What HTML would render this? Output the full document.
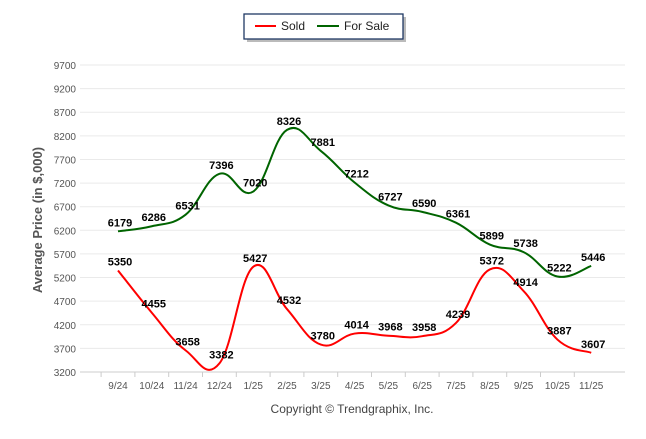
<!DOCTYPE html>
<html><head><meta charset="utf-8"><style>
body{margin:0;background:#fff;width:646px;height:434px;overflow:hidden;font-family:"Liberation Sans",sans-serif}
</style></head><body>
<svg id="c" width="646" height="434">
<rect x="247" y="17" width="159" height="25" fill="#bbb" stroke="none"/>
<rect x="244" y="14" width="159" height="25" fill="#fff" stroke="#1f3864" stroke-width="1.3"/>
<line x1="255" y1="26" x2="276" y2="26" stroke="#ff0000" stroke-width="2"/>
<text x="281" y="30" font-size="12" fill="#222">Sold</text>
<line x1="317" y1="26" x2="339" y2="26" stroke="#006400" stroke-width="2"/>
<text x="344" y="30" font-size="12" fill="#222">For Sale</text>
<text transform="translate(42,220) rotate(-90)" text-anchor="middle" font-size="13" font-weight="bold" fill="#555">Average Price (in $,000)</text>
<text x="352" y="413" text-anchor="middle" font-size="12" fill="#444">Copyright © Trendgraphix, Inc.</text>
<g id="grid"></g><g id="lines"></g><g id="labels"></g>
</svg>
<script>
const categories=["9/24","10/24","11/24","12/24","1/25","2/25","3/25","4/25","5/25","6/25","7/25","8/25","9/25","10/25","11/25"];
const sold=[5350,4455,3658,3382,5427,4532,3780,4014,3968,3958,4239,5372,4914,3887,3607];
const forSale=[6179,6286,6531,7396,7020,8326,7881,7212,6727,6590,6361,5899,5738,5222,5446];
const yTicks=[3200,3700,4200,4700,5200,5700,6200,6700,7200,7700,8200,8700,9200,9700];
const NS="http://www.w3.org/2000/svg";
const x=i=>118+i*33.8;
const y=v=>372-(v-3200)*(307/6500);
function mk(t,a,p){const e=document.createElementNS(NS,t);for(const k in a)e.setAttribute(k,a[k]);p.appendChild(e);return e;}
const g=document.getElementById('grid'),L=document.getElementById('lines'),T=document.getElementById('labels');
yTicks.forEach(v=>{
 const l=mk('line',{x1:80,x2:625,y1:y(v),y2:y(v),stroke:v===3200?'#ccc':'#eaeaea'},g);
 
 
 const t=mk('text',{x:76,y:y(v)+4,'text-anchor':'end','font-size':10,fill:'#555'},g);
 t.textContent=v;
 
 
});
categories.forEach((c,i)=>{
 mk('line',{x1:x(i)-16.9,x2:x(i)-16.9,y1:372,y2:377,stroke:'#ccc'},g);
 const t=mk('text',{x:x(i),y:389,'text-anchor':'middle','font-size':10,fill:'#555'},g);
 t.textContent=c;
 
 
});
function path(vals){
 const p=vals.map((v,i)=>[x(i),y(v)]);
 let d='M'+p[0][0]+','+p[0][1];
 for(let i=0;i<p.length-1;i++){
  const p0=p[Math.max(i-1,0)],p1=p[i],p2=p[i+1],p3=p[Math.min(i+2,p.length-1)];
  const t=0.2;
  d+=` C${p1[0]+(p2[0]-p0[0])*t},${p1[1]+(p2[1]-p0[1])*t} ${p2[0]-(p3[0]-p1[0])*t},${p2[1]-(p3[1]-p1[1])*t} ${p2[0]},${p2[1]}`;
 }
 return d;
}
const s1=mk('path',{d:path(forSale),fill:'none',stroke:'#006400','stroke-width':2},L);


const s2=mk('path',{d:path(sold),fill:'none',stroke:'#ff0000','stroke-width':2},L);


[[sold,'sold-value-label'],[forSale,'for-sale-value-label']].forEach(([arr,n])=>{
 arr.forEach((v,i)=>{
  const t=mk('text',{x:x(i)+2,y:y(v)-5,'text-anchor':'middle','font-size':11,'font-weight':'bold',fill:'#000'},T);
  t.textContent=v;
  
  
 });
});
</script>
</body></html>
